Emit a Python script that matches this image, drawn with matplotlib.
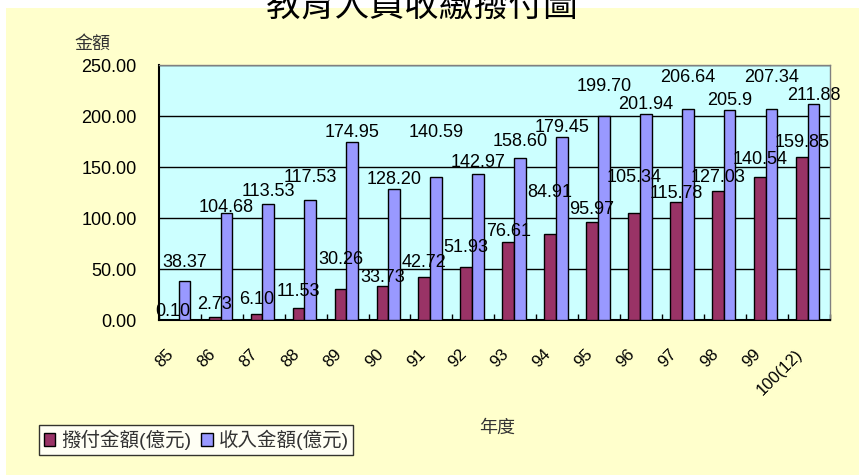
import numpy as np
import matplotlib.pyplot as plt
from matplotlib.patches import Rectangle
from matplotlib.transforms import ScaledTranslation

plt.rcParams['font.family'] = ['Liberation Sans', 'Noto Sans CJK TC']

# Data
years = ['85', '86', '87', '88', '89', '90', '91', '92', '93', '94',
         '95', '96', '97', '98', '99', '100(12)']
paid = [0.10, 2.73, 6.10, 11.53, 30.26, 33.73, 42.72, 51.93, 76.61, 84.91,
        95.97, 105.34, 115.78, 127.03, 140.54, 159.85]
income = [38.37, 104.68, 113.53, 117.53, 174.95, 128.20, 140.59, 142.97, 158.60, 179.45,
          199.70, 201.94, 206.64, 205.9, 207.34, 211.88]
paid_labels = ['0.10', '2.73', '6.10', '11.53', '30.26', '33.73', '42.72', '51.93', '76.61', '84.91',
               '95.97', '105.34', '115.78', '127.03', '140.54', '159.85']
income_labels = ['38.37', '104.68', '113.53', '117.53', '174.95', '128.20', '140.59', '142.97',
                 '158.60', '179.45', '199.70', '201.94', '206.64', '205.9', '207.34', '211.88']

# label gaps above the bars (px), as placed in the original chart
paid_gap = [3, 7, 9, 11, 24, 3, 8, 14, 5, 35, 7, 29, 3, 7, 12, 9]
income_gap = [13, 0, 7, 17, 3, 4, 38, 6, 11, 4, 24, 4, 26, 4, 25, 3]

fig = plt.figure(figsize=(8.59, 4.75), dpi=100, facecolor='white')
# yellow chart area (white strip on top and left)
fig.patches.append(Rectangle((6 / 859, 0), 1, 1 - 8 / 475, transform=fig.transFigure,
                             facecolor='#FFFFCC', edgecolor='none', zorder=-10))

ax = fig.add_axes([0.185, 0.326, 0.781, 0.537])
ax.set_facecolor('#CCFFFF')

x = np.arange(len(years))
w = 0.28
b1 = ax.bar(x - w / 2 - 0.03, paid, w, color='#993366', edgecolor='black', linewidth=1, zorder=3,
            label='撥付金額(億元)')
b2 = ax.bar(x + w / 2 - 0.03, income, w, color='#9999FF', edgecolor='black', linewidth=1, zorder=3,
            label='收入金額(億元)')

for bars, labs, gaps in [(b1, paid_labels, paid_gap), (b2, income_labels, income_gap)]:
    for r, t, g in zip(bars, labs, gaps):
        ax.annotate(t, (r.get_x() + r.get_width() / 2, r.get_height()),
                    xytext=(0, g * 0.72 - 2), textcoords='offset points',
                    ha='center', va='bottom', fontsize=13, zorder=5, annotation_clip=False)

ax.set_xlim(-0.5, len(years) - 0.5)
ax.set_ylim(0, 250)
ax.set_yticks(np.arange(0, 251, 50))
ax.set_yticklabels([f'{v:.2f}' for v in np.arange(0, 251, 50)], fontsize=13)
ax.yaxis.grid(True, color='black', linewidth=1, zorder=1)
ax.set_axisbelow(True)
ax.tick_params(axis='y', length=0, pad=16)

ax.set_xticks(x)
ax.set_xticklabels(years, rotation=45, ha='right', rotation_mode='anchor', fontsize=12)
ax.set_xticks(np.arange(-0.5, len(years)), minor=True)
ax.tick_params(axis='x', which='major', length=0, pad=19)
ax.tick_params(axis='x', which='minor', length=4, direction='in', width=1)
for lab in ax.get_xticklabels():
    lab.set_transform(lab.get_transform() + ScaledTranslation(-0.14, 0, fig.dpi_scale_trans))

for s in ['top', 'right']:
    ax.spines[s].set_color('#808080')
    ax.spines[s].set_linewidth(1)
for s in ['left', 'bottom']:
    ax.spines[s].set_color('black')
    ax.spines[s].set_linewidth(1.5)

fig.text(0.492, 0.985, '教育人員收繳撥付圖', ha='center', va='center', fontsize=25,
         fontfamily='Noto Sans CJK TC')
fig.text(0.108, 0.907, '金額', ha='center', va='center', fontsize=13, color='#333333')
fig.text(0.579, 0.099, '年度', ha='center', va='center', fontsize=13, color='#333333')

leg = fig.legend(handles=[b1, b2], loc='lower left', bbox_to_anchor=(0.045, 0.042),
                 ncol=2, fontsize=14, frameon=True, fancybox=False, handlelength=0.6,
                 handleheight=0.6, handletextpad=0.3, columnspacing=0.5, borderpad=0.25,
                 borderaxespad=0)
leg.get_frame().set_edgecolor('black')
leg.get_frame().set_linewidth(1)
for t in leg.get_texts():
    t.set_color('#333333')

fig.savefig('out.png', dpi=100, facecolor=fig.get_facecolor())
